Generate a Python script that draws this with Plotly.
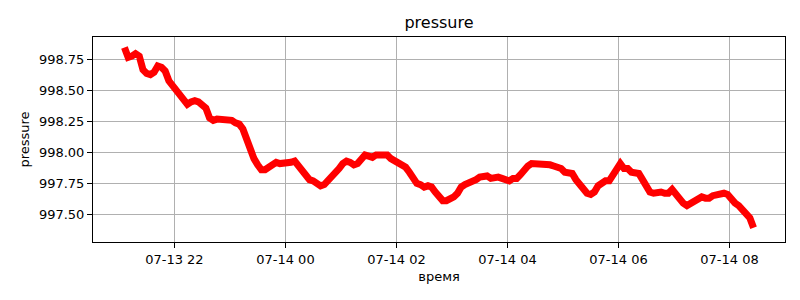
import pandas as pd
import plotly.graph_objects as go

# Time axis: readings every 4 minutes starting 2023-07-13 21:06
start_time = "2023-07-13 21:06"
step = "4min"

pressure = [
    998.85, 998.77, 998.78, 998.80, 998.78, 998.67, 998.64, 998.63, 998.65, 998.70,
    998.69, 998.66, 998.58, 998.54, 998.52, 998.47, 998.42, 998.39, 998.41, 998.42,
    998.41, 998.39, 998.36, 998.28, 998.26, 998.27, 998.27, 998.26, 998.27, 998.26,
    998.24, 998.23, 998.19, 998.10, 998.03, 997.95, 997.90, 997.86, 997.86, 997.88,
    997.90, 997.92, 997.91, 997.91, 997.91, 997.92, 997.93, 997.89, 997.87, 997.83,
    997.78, 997.77, 997.75, 997.73, 997.74, 997.77, 997.79, 997.83, 997.87, 997.91,
    997.93, 997.92, 997.90, 997.91, 997.95, 997.98, 997.97, 997.96, 997.98, 997.98,
    997.98, 997.98, 997.95, 997.93, 997.91, 997.89, 997.88, 997.84, 997.80, 997.75,
    997.74, 997.72, 997.73, 997.72, 997.68, 997.64, 997.61, 997.61, 997.62, 997.64,
    997.67, 997.72, 997.74, 997.75, 997.76, 997.78, 997.80, 997.81, 997.81, 997.79,
    997.80, 997.80, 997.79, 997.78, 997.77, 997.79, 997.79, 997.82, 997.86, 997.89,
    997.91, 997.91, 997.91, 997.91, 997.91, 997.90, 997.89, 997.88, 997.87, 997.84,
    997.83, 997.83, 997.78, 997.74, 997.71, 997.67, 997.66, 997.68, 997.73, 997.76,
    997.77, 997.77, 997.82, 997.88, 997.91, 997.87, 997.87, 997.84, 997.83, 997.83,
    997.78, 997.72, 997.68, 997.67, 997.68, 997.68, 997.67, 997.67, 997.70, 997.66,
    997.62, 997.59, 997.57, 997.59, 997.61, 997.62, 997.64, 997.63, 997.63, 997.65,
    997.66, 997.67, 997.67, 997.66, 997.62, 997.59, 997.57, 997.54, 997.50, 997.47,
    997.39,
]

times = pd.date_range(start=start_time, periods=len(pressure), freq=step)

y_ticks = [997.50, 997.75, 998.00, 998.25, 998.50, 998.75]
x_ticks = ["2023-07-13 22:00", "2023-07-14 00:00", "2023-07-14 02:00",
           "2023-07-14 04:00", "2023-07-14 06:00", "2023-07-14 08:00"]
x_tick_text = ["07-13 22", "07-14 00", "07-14 02", "07-14 04", "07-14 06", "07-14 08"]

fig = go.Figure()
fig.add_trace(go.Scatter(
    x=times, y=pressure, mode="lines",
    line=dict(color="#ff0000", width=7),
    showlegend=False,
))

font = "DejaVu Sans, sans-serif"
axis_common = dict(
    showline=True, linecolor="black", linewidth=1, mirror=True,
    ticks="outside", ticklen=5, tickwidth=1, tickcolor="black",
    showgrid=True, gridcolor="#b0b0b0", gridwidth=0.8,
    zeroline=False,
    tickfont=dict(family=font, size=13, color="black"),
)

fig.update_layout(
    width=800, height=300,
    margin=dict(l=93, r=15, t=37, b=58),
    paper_bgcolor="white", plot_bgcolor="white",
    title=dict(text="pressure", x=0.5, xref="paper", xanchor="center",
               y=0.927, yref="container", yanchor="middle",
               font=dict(family=font, size=16, color="black")),
    xaxis=dict(
        **axis_common,
        range=["2023-07-13 20:32", "2023-07-14 09:00"],
        tickvals=x_ticks, ticktext=x_tick_text,
        title=dict(text="время", standoff=6,
                   font=dict(family=font, size=13, color="black")),
    ),
    yaxis=dict(
        **axis_common,
        range=[997.275, 998.935],
        tickvals=y_ticks, tickformat=".2f",
        title=dict(text="pressure", standoff=6,
                   font=dict(family=font, size=13, color="black")),
    ),
)

fig.write_html("out.html")
